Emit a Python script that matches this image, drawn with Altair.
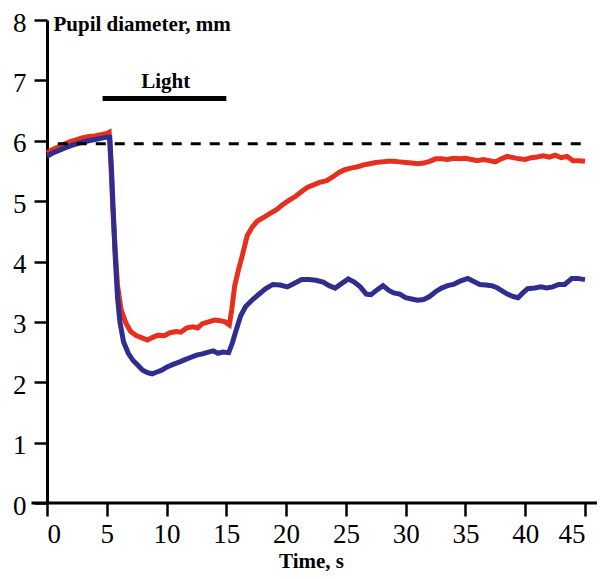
import altair as alt
import pandas as pd

# ---- data ----
red_t = [0, 0.5, 1, 1.5, 2, 2.5, 3, 3.5, 4, 4.5, 5, 5.2, 5.35, 5.5, 5.7, 5.9, 6.2, 6.6, 7.0, 7.5,
         8.0, 8.4, 8.8, 9.3, 9.8, 10.3, 10.8, 11.2, 11.7, 12.2, 12.6, 13.0, 13.5, 14.0, 14.5, 14.9,
         15.25, 15.45, 15.7, 16.0, 16.4, 16.75, 17.2, 17.6, 18.2, 18.7, 19.2, 19.7, 20.3, 20.8,
         21.3, 21.8, 22.3, 22.8, 23.4, 23.9, 24.4, 24.9, 25.5, 26.0, 26.5, 27.0, 27.5, 28.0, 28.5,
         29.0, 29.5, 30.0, 30.5, 31.0, 31.5, 32.0, 32.5, 33.0, 33.5, 34.0, 34.5, 35.0, 35.5, 36.0,
         36.5, 37.0, 37.5, 38.0, 38.5, 39.0, 39.5, 40.0, 40.5, 41.0, 41.5, 42.0, 42.5, 43.0, 43.5,
         44.0, 44.5, 45.0]
red_y = [5.80, 5.86, 5.90, 5.95, 5.99, 6.02, 6.05, 6.07, 6.08, 6.10, 6.12, 6.14, 5.6, 4.9, 4.2, 3.6,
         3.2, 2.98, 2.84, 2.77, 2.73, 2.70, 2.74, 2.78, 2.77, 2.82, 2.84, 2.83, 2.90, 2.92, 2.90,
         2.97, 3.00, 3.03, 3.02, 3.00, 2.95, 3.2, 3.6, 3.85, 4.15, 4.43, 4.58, 4.67, 4.74, 4.80,
         4.86, 4.94, 5.02, 5.08, 5.16, 5.23, 5.27, 5.31, 5.34, 5.40, 5.47, 5.52, 5.55, 5.57, 5.60,
         5.62, 5.64, 5.65, 5.66, 5.66, 5.65, 5.64, 5.63, 5.62, 5.63, 5.66, 5.70, 5.70, 5.69, 5.71,
         5.70, 5.71, 5.69, 5.67, 5.69, 5.67, 5.65, 5.70, 5.74, 5.72, 5.70, 5.69, 5.72, 5.73, 5.75,
         5.73, 5.76, 5.72, 5.74, 5.67, 5.67, 5.66]

blue_t = [0, 0.5, 1, 1.5, 2, 2.5, 3, 3.5, 4, 4.5, 5, 5.25, 5.4, 5.55, 5.7, 5.9, 6.1, 6.4, 6.8, 7.2,
          7.6, 8.0, 8.4, 8.8, 9.2, 9.6, 10.0, 10.6, 11.0, 11.5, 12.0, 12.5, 13.0, 13.5, 13.9, 14.3,
          14.7, 15.2, 15.5, 15.8, 16.2, 16.6, 17.2, 17.8, 18.3, 18.9, 19.5, 20.1, 20.7, 21.3, 21.9,
          22.5, 23.1, 23.6, 24.1, 24.6, 25.2, 25.7, 26.2, 26.7, 27.1, 27.6, 28.1, 28.6, 29.0, 29.5,
          30.0, 30.5, 31.0, 31.5, 32.0, 32.5, 33.0, 33.5, 34.0, 34.5, 35.2, 35.7, 36.2, 36.7, 37.2,
          37.6, 38.0, 38.5, 39.0, 39.4, 39.8, 40.2, 40.8, 41.3, 41.8, 42.3, 42.8, 43.3, 43.9, 44.4,
          45.0]
blue_y = [5.74, 5.80, 5.84, 5.88, 5.92, 5.95, 5.98, 6.00, 6.02, 6.04, 6.06, 6.06, 5.5, 4.8, 4.1,
          3.4, 3.0, 2.67, 2.48, 2.36, 2.28, 2.20, 2.16, 2.14, 2.17, 2.20, 2.25, 2.30, 2.33, 2.37,
          2.41, 2.45, 2.47, 2.50, 2.52, 2.48, 2.50, 2.49, 2.65, 2.85, 3.10, 3.25, 3.37, 3.47, 3.55,
          3.62, 3.61, 3.58, 3.64, 3.70, 3.70, 3.69, 3.66, 3.60, 3.56, 3.63, 3.71, 3.66, 3.58, 3.46,
          3.45, 3.53, 3.60, 3.52, 3.48, 3.46, 3.40, 3.38, 3.36, 3.37, 3.42, 3.50, 3.56, 3.60, 3.62,
          3.67, 3.72, 3.67, 3.62, 3.61, 3.60, 3.57, 3.52, 3.46, 3.42, 3.40, 3.48, 3.55, 3.56, 3.58,
          3.56, 3.58, 3.62, 3.62, 3.72, 3.72, 3.70]

baseline_level = [5.95]
baseline_span = [0.9, 45.0]
light_span = [4.65, 15.0]
light_level = [6.7]
light_label = ["Light"]
x_ticks = [0, 5, 10, 15, 20, 25, 30, 35, 40, 45]
y_ticks = [0, 1, 2, 3, 4, 5, 6, 7, 8]
x_axis_extent = [-1.3, 46.0]

FONT = "Liberation Serif"

red_df = pd.DataFrame({"t": red_t, "d": red_y})
blue_df = pd.DataFrame({"t": blue_t, "d": blue_y})
dash_df = pd.DataFrame({"t": [baseline_span[0]], "t2": [baseline_span[1]], "d": baseline_level})
light_df = pd.DataFrame({"t": [light_span[0]], "t2": [light_span[1]], "d": light_level})
label_df = pd.DataFrame({"t": [(light_span[0] + light_span[1]) / 2 + 0.1], "d": [6.88], "txt": light_label})
xaxis_df = pd.DataFrame({"t": [x_axis_extent[0]], "t2": [x_axis_extent[1]], "d": [0]})

x_scale = alt.Scale(domain=[0, 45], nice=False, zero=False)
y_scale = alt.Scale(domain=[0, 8], nice=False)

x_enc = alt.X("t:Q", scale=x_scale, axis=alt.Axis(
    values=x_ticks, format="d", domain=False, title="Time, s", titleFont=FONT, titleFontSize=21,
    titleFontWeight="bold", titleColor="black", titleBaseline="alphabetic",
    titleAlign="center", titleX=264, titleY=64, labelPadding=5))
y_enc = alt.Y("d:Q", scale=y_scale, axis=alt.Axis(
    values=y_ticks, format="d", title="Pupil diameter, mm", titleAngle=0, titleAlign="left",
    titleBaseline="alphabetic", titleX=6, titleY=10, titleFont=FONT, titleFontSize=21,
    titleFontWeight="bold", titleColor="black", labelPadding=8, labelOffset=3))

red = alt.Chart(red_df).mark_line(color="#e5301f", strokeWidth=5, clip=False).encode(
    x=x_enc, y=y_enc, order="t:Q")
blue = alt.Chart(blue_df).mark_line(color="#2f2d8e", strokeWidth=5, clip=False).encode(
    x="t:Q", y="d:Q", order="t:Q")
dash = alt.Chart(dash_df).mark_rule(color="black", strokeWidth=3, strokeDash=[10, 9]).encode(
    x="t:Q", x2="t2:Q", y="d:Q")
light = alt.Chart(light_df).mark_rule(color="black", strokeWidth=5).encode(
    x="t:Q", x2="t2:Q", y="d:Q")
label = alt.Chart(label_df).mark_text(font=FONT, fontSize=21, fontWeight="bold", color="black",
                                      align="center", baseline="alphabetic").encode(
    x="t:Q", y="d:Q", text="txt:N")
xaxis_line = alt.Chart(xaxis_df).mark_rule(color="black", strokeWidth=3, clip=False).encode(
    x="t:Q", x2="t2:Q", y="d:Q")

chart = alt.layer(red, blue, dash, light, label, xaxis_line).properties(
    width=538, height=483,
    autosize=alt.AutoSizeParams(type="none"),
    padding={"left": 39, "top": 12, "right": 14, "bottom": 68},
).configure_view(stroke=None).configure_axis(
    grid=False, domainColor="black", domainWidth=3, tickColor="black", tickWidth=2.5,
    tickSize=13, labelFont=FONT, labelFontSize=27, labelColor="black",
)

chart.save("out.html", embed_options={"renderer": "svg", "actions": False})
